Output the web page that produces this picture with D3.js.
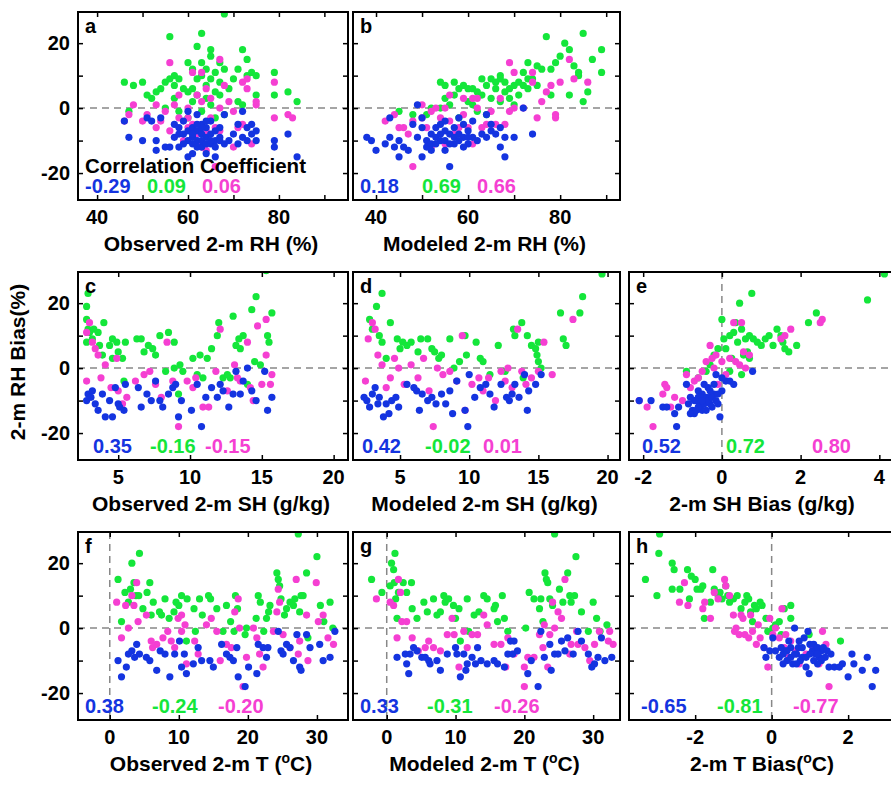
<!DOCTYPE html>
<html>
<head>
<meta charset="utf-8">
<script src="https://cdnjs.cloudflare.com/ajax/libs/d3/7.8.5/d3.min.js"></script>
<style>
  body { margin: 0; background: #fff; }
  svg { display: block; font-family: "Liberation Sans", Arial, sans-serif; font-weight: bold; }
</style>
</head>
<body>
<svg width="891" height="785"></svg>
<script>
// point lists: [x, RH bias]
const aBlue = [[46,-4],[47,-9],[50,-10],[51,-3],[52,-4],[53,-13],[53,-10],[54,-3],[55,-12],[56,-12],[57,-5],[58,-6],[58,-12],[59,-8],[59,-4],[60,-15],[60,-7],[61,-14],[61,-9],[61,-6],[62,-2],[62,-10],[62,-7],[63,-8],[63,-12],[63,-5],[64,-14],[64,-9],[64,-6],[65,-11],[65,-8],[65,-4],[66,-15],[66,-7],[66,-10],[67,-9],[67,-6],[68,-11],[68,-2],[69,-10],[70,-8],[71,-11],[71,-5],[72,-9],[72,-1],[73,-10],[73,-6],[74,-8],[74,-5],[75,-7],[75,-10],[79,-10],[79,-12],[82,-8],[84,-15],[60,-1],[57,-9],[58,-8],[60,-10],[61,-11],[62,-12],[63,-10],[64,-11],[65,-10],[66,-12],[59,-11],[61,-8],[63,-6],[64,-4],[67,-10],[62,-5]];
const aGreen = [[46,8],[47,-1],[48,7],[50,8],[51,4],[52,3],[53,5],[54,6],[55,8],[55,0],[56,22],[56,9],[57,10],[57,3],[58,9],[58,-1],[59,6],[60,14],[60,-3],[61,12],[61,6],[61,2],[62,9],[62,19],[62,4],[63,23],[63,14],[63,10],[63,-1],[64,7],[64,12],[64,3],[65,18],[65,16],[65,9],[65,1],[66,11],[66,5],[66,-3],[67,14],[67,4],[67,8],[68,29],[68,12],[68,-2],[69,6],[70,9],[71,2],[71,12],[72,18],[72,1],[73,15],[73,10],[74,11],[75,10],[75,4],[79,11],[79,4],[82,5],[84,2],[57,7],[60,5]];
const aPink = [[46,-4],[47,-2],[48,1],[50,-4],[51,-2],[53,-6],[53,1],[54,-4],[55,-1],[56,14],[56,-7],[57,1],[58,-3],[58,4],[59,-10],[60,-3],[60,0],[61,11],[61,-5],[62,4],[62,-8],[63,11],[63,-12],[63,2],[64,-13],[64,6],[64,-7],[65,3],[65,-3],[66,-6],[66,-18],[67,15],[67,-7],[67,0],[68,7],[69,2],[70,-1],[70,-12],[71,-6],[72,8],[72,-5],[73,9],[73,6],[74,-11],[75,1],[75,2],[79,8],[79,-3],[82,-2],[83,-3],[60,-6],[62,-11]];

const bBlue = [[38,-9],[39,-10],[40,-13],[42,-11],[43,-3],[43,-9],[44,-12],[45,-10],[45,-15],[46,-12],[47,-13],[48,-5],[49,1],[49,-9],[50,-3],[50,-6],[50,-15],[51,-10],[51,-12],[52,-8],[52,-11],[53,-6],[53,-9],[54,-5],[54,-10],[55,-7],[55,-4],[56,-8],[56,-18],[57,-11],[57,-6],[58,-8],[58,-3],[59,-9],[59,-5],[60,-7],[60,-11],[61,-4],[61,-9],[62,-10],[63,-8],[64,-2],[64,-9],[65,-5],[65,-7],[66,-8],[67,-12],[67,-6],[68,-15],[68,-9],[70,-9],[72,0],[74,-8],[53,-11],[54,-8],[55,-10],[56,-11],[57,-9],[58,-10],[59,-12],[60,-9],[52,-13],[55,-13]];
const bGreen = [[45,-1],[48,-2],[51,-2],[52,0],[54,8],[54,0],[55,3],[55,7],[56,1],[57,4],[57,8],[58,6],[58,-3],[59,7],[60,2],[60,6],[61,6],[61,1],[62,5],[62,-1],[63,9],[63,4],[64,7],[64,-2],[65,9],[65,3],[66,8],[66,6],[67,10],[67,9],[67,2],[68,8],[68,5],[69,6],[69,3],[70,7],[70,1],[71,4],[71,8],[72,11],[72,7],[73,14],[73,9],[73,6],[74,9],[75,13],[75,7],[76,12],[77,22],[78,12],[78,4],[79,14],[80,16],[81,20],[82,18],[82,4],[83,13],[84,11],[84,10],[85,23],[85,2],[86,5],[87,15],[89,18],[89,11]];
const bPink = [[42,-4],[44,-2],[45,-6],[46,-6],[47,-8],[48,-18],[48,-4],[50,1],[50,-3],[51,-6],[52,-12],[52,-1],[53,0],[54,-3],[55,-11],[55,0],[56,4],[56,-4],[57,-8],[58,-6],[59,-2],[59,3],[60,-6],[61,-11],[61,3],[62,0],[62,3],[63,-6],[64,-5],[65,-1],[66,-5],[67,3],[68,-5],[69,14],[69,-1],[70,11],[70,0],[72,0],[74,11],[74,8],[75,-3],[76,2],[77,5],[78,7],[79,-3],[79,-2],[80,8],[82,15],[83,9],[86,8]];

const cBlue = [[2.8,-10],[2.9,-8],[3.1,-9],[3.2,-7],[3.4,-11],[3.6,-13],[3.9,-8],[4.1,-15],[4.4,-10],[4.6,-15],[4.8,-6],[5.0,-11],[5.1,-12],[5.4,-13],[5.5,-5],[6.4,-6],[6.6,-12],[7.0,-8],[7.3,-10],[7.6,-4],[7.9,-10],[8.1,-12],[8.5,-8],[8.8,-6],[9.0,-5],[9.2,-15],[9.4,-10],[10.1,-13],[10.5,-5],[10.8,-18],[11.1,-9],[11.5,-6],[11.9,-9],[12.3,-7],[12.7,-12],[13.0,-8],[13.2,-1],[13.5,-8],[13.7,-4],[14.0,0],[14.3,-7],[14.6,-10],[15.2,-1],[15.4,-13],[15.7,-9],[12.1,-5]];
const cGreen = [[2.9,23],[2.8,19],[2.8,15],[2.9,12],[2.8,8],[3.0,11],[3.2,9],[3.3,12],[3.6,11],[3.7,7],[3.9,4],[4.0,14],[4.4,7],[4.6,9],[4.9,8],[5.0,5],[5.3,3],[5.5,8],[5.4,-4],[4.6,3],[6.3,9],[6.6,9],[6.8,5],[7.1,7],[7.4,6],[7.6,4],[7.9,10],[8.3,-1],[8.5,11],[8.9,8],[8.9,0],[9.2,-8],[9.3,1],[9.5,-1],[10.2,3],[10.5,-2],[10.7,4],[11.2,3],[11.5,6],[11.9,10],[12.0,14],[12.3,-3],[12.8,-3],[13.0,16],[13.2,7],[13.4,9],[13.5,6],[13.7,10],[14.0,-5],[14.3,18],[14.5,2],[14.6,22],[14.9,1],[15.3,30],[15.4,10],[15.5,8],[15.7,17],[12.6,-2],[10.9,-3]];
const cPink = [[2.8,-4],[2.8,11],[3.0,14],[3.2,8],[3.4,6],[3.6,4],[3.8,-3],[4.1,1],[4.5,-6],[4.9,3],[5.0,-7],[5.3,-11],[5.6,-9],[6.2,-4],[6.8,-2],[7.2,-1],[7.6,-5],[8.0,-9],[8.4,8],[8.8,-4],[9.2,-18],[9.8,-4],[10.4,-3],[10.9,-12],[11.3,-12],[11.8,-1],[12.1,12],[12.6,-7],[13.1,1],[13.3,-3],[13.5,-4],[14.0,8],[14.2,-6],[14.4,-10],[14.7,13],[15.0,-5],[15.3,4],[15.3,15],[15.6,-5],[15.7,-2],[10.2,-6]];

const dBlue = [[2.4,-9],[2.6,-10],[2.8,-12],[3.0,-8],[3.2,-6],[3.4,-11],[3.5,-9],[3.8,-15],[4.0,-11],[4.2,-14],[4.4,-10],[4.7,-9],[4.9,-12],[5.5,-5],[6.0,-6],[6.2,-7],[6.4,-13],[6.6,-8],[7.0,-10],[7.3,-9],[7.6,-11],[8.0,-8],[8.3,-11],[8.6,-7],[8.8,-14],[9.1,-4],[9.7,-13],[9.9,-18],[10.0,-2],[10.4,-9],[10.8,-6],[11.2,-5],[11.8,-12],[12.3,-5],[12.7,-9],[13.1,-8],[13.3,-5],[13.6,-9],[14.0,-2],[14.2,-13],[14.3,-7],[14.8,-5],[15.2,-2],[11.5,-8],[12.9,-10]];
const dGreen = [[2.8,15],[3.0,12],[3.3,19],[3.5,10],[3.7,23],[3.7,8],[4.0,3],[4.3,14],[4.8,9],[5.0,6],[5.2,8],[5.5,7],[5.8,8],[6.3,5],[6.5,9],[7.0,9],[7.3,6],[7.5,5],[7.8,3],[8.0,4],[8.6,9],[8.9,0],[9.3,2],[9.7,10],[9.8,4],[10.5,8],[10.8,3],[11.0,2],[11.5,-2],[12.1,7],[12.6,-1],[13.2,12],[13.3,10],[13.8,14],[13.9,-3],[14.2,10],[14.5,7],[14.8,6],[14.9,4],[15.0,8],[15.0,2],[15.2,0],[16.6,17],[16.8,9],[17.0,7],[18.0,17],[18.2,22],[19.6,29]];
const dPink = [[2.5,-4],[2.7,9],[3.0,14],[3.2,12],[3.4,4],[3.7,1],[4.0,-6],[4.3,-3],[4.6,3],[4.9,0],[5.3,-5],[5.8,1],[6.3,-3],[6.7,3],[7.1,-7],[7.4,-18],[7.7,0],[8.1,-2],[8.6,-1],[9.1,-4],[9.5,10],[9.7,-13],[10.2,-5],[10.7,-3],[11.0,-7],[11.4,-3],[11.9,-10],[12.3,-1],[12.8,0],[13.1,-6],[13.5,12],[13.8,-1],[14.1,-5],[14.5,-3],[15.0,-1],[15.4,8],[17.5,15],[16.0,-2],[12.6,-4]];

const eBlue = [[-2.1,-10],[-1.8,-10],[-1.5,-12],[-1.4,-12],[-1.2,-14],[-1.15,-18],[-1.1,-12],[-0.9,-5],[-0.8,-9],[-0.75,-13],[-0.7,-14],[-0.65,-10],[-0.6,-7],[-0.55,-11],[-0.5,-8],[-0.45,-5],[-0.4,-9],[-0.35,-6],[-0.3,-9],[-0.25,-12],[-0.2,-8],[-0.15,-2],[-0.1,-11],[-0.05,-15],[0.0,-7],[0.1,-4],[0.2,-4],[0.3,-5],[0.78,-1],[-0.5,-13],[-0.3,-11],[-0.6,-12],[-0.2,-5],[-0.85,-11],[-0.7,-10],[-0.65,-13],[-0.55,-9],[-0.45,-11],[-0.4,-13],[-0.35,-10],[-0.25,-9],[-0.15,-10],[-0.1,-8],[-0.3,-7],[-0.6,-9],[-0.8,-14],[-0.5,-10],[0.0,-3]];
const eGreen = [[-0.9,-1],[-0.6,-3],[-0.4,-1],[-0.3,1],[-0.2,4],[-0.1,6],[0.0,15],[0.05,9],[0.1,6],[0.2,10],[0.25,3],[0.3,11],[0.35,14],[0.4,8],[0.45,20],[0.5,12],[0.5,-2],[0.55,4],[0.6,9],[0.65,5],[0.7,10],[0.76,23],[0.8,9],[0.9,8],[1.0,7],[1.1,9],[1.2,10],[1.3,7],[1.4,12],[1.5,10],[1.55,8],[1.6,6],[1.7,5],[1.9,7],[2.2,14],[2.4,17],[3.7,21],[4.13,29],[0.2,-1],[0.7,3]];
const ePink = [[-2.1,-10],[-1.9,-12],[-1.75,-18],[-1.5,-8],[-1.45,-5],[-1.4,-6],[-1.3,-12],[-1.2,-9],[-1.0,-10],[-0.9,-2],[-0.8,-6],[-0.7,-4],[-0.6,-3],[-0.5,-1],[-0.4,2],[-0.3,7],[-0.25,3],[-0.15,4],[-0.1,-5],[0.0,2],[0.2,3],[0.3,14],[0.35,2],[0.45,1],[0.5,14],[0.55,5],[0.6,0],[0.7,4],[1.5,9],[1.6,10],[1.75,12],[2.5,14],[2.55,15],[0.1,-2],[-0.2,0]];

const fBlue = [[1.2,-10],[1.7,-15],[2.4,-12],[2.7,-8],[3.2,-7],[3.6,-9],[3.9,-5],[4.3,-8],[5.3,-9],[5.8,-10],[6.8,-13],[7.3,-7],[8.0,-8],[8.7,-15],[9.4,-8],[10.1,-4],[10.4,-12],[10.8,-8],[11.1,-14],[12.1,-11],[12.8,-6],[13.3,-10],[14.5,-10],[15.0,-12],[16.2,-5],[16.9,-8],[17.4,-9],[17.9,-10],[18.4,-6],[18.6,-15],[19.6,-18],[20.1,-12],[21.3,-14],[21.5,-5],[22.2,-6],[22.7,-9],[22.9,-6],[24.4,-1],[24.8,-7],[25.1,-8],[25.6,-5],[26.1,-6],[26.6,-10],[27.1,-2],[27.5,-12],[27.7,-13],[28.5,-2],[29.0,-6],[30.4,-5],[30.9,-10],[31.9,-9],[32.6,-1]];
const fGreen = [[1.2,15],[1.7,2],[2.2,11],[2.7,8],[3.0,12],[3.2,20],[3.5,14],[3.8,10],[4.3,23],[4.2,10],[4.8,6],[5.4,11],[5.8,14],[6.0,4],[6.3,8],[7.2,5],[7.5,4],[8.0,9],[8.6,3],[9.3,5],[9.6,8],[10.0,7],[10.4,10],[11.1,-4],[11.2,9],[12.2,6],[12.4,-1],[13.0,9],[13.4,4],[14.3,10],[14.6,9],[15.5,6],[16.4,-1],[16.9,7],[17.5,2],[18.0,-1],[18.2,10],[18.5,6],[19.6,-2],[19.8,0],[21.2,3],[21.5,10],[21.8,8],[22.3,-1],[22.7,3],[23.0,5],[23.2,7],[24.2,17],[24.4,15],[24.6,13],[24.8,9],[25.3,4],[25.6,6],[26.1,8],[26.6,7],[26.8,9],[27.3,29],[27.5,5],[27.7,10],[28.0,10],[28.5,17],[28.7,-3],[30.0,22],[30.5,7],[31.0,2],[31.9,8],[32.3,0]];
const fPink = [[1.0,8],[1.7,-3],[2.3,7],[2.7,0],[3.2,10],[3.5,7],[3.9,14],[4.1,2],[5.3,4],[6.0,-4],[6.2,-6],[6.8,-5],[7.7,-3],[8.4,-1],[8.9,-4],[9.4,-6],[9.9,3],[10.4,-1],[10.4,4],[10.9,1],[11.1,-11],[12.3,-4],[12.8,-8],[14.0,1],[14.7,3],[15.5,-1],[16.0,-10],[16.9,-5],[17.6,-6],[18.1,5],[18.6,9],[18.8,0],[19.3,-18],[19.8,-9],[20.8,0],[21.3,-3],[21.7,-8],[22.2,-12],[23.7,-1],[24.2,5],[24.4,12],[24.6,8],[25.1,-2],[26.1,-6],[27.0,15],[27.3,-8],[27.5,-4],[28.5,4],[28.7,-10],[29.9,14],[30.2,2],[30.9,4],[31.6,-3],[32.4,-5]];

const gBlue = [[1.5,-9],[2.7,-8],[2.9,-11],[3.2,-14],[3.4,-8],[3.9,-6],[4.4,-7],[5.1,-9],[5.6,-9],[6.1,-10],[6.3,-11],[7.3,-10],[7.8,-13],[8.8,-8],[10.0,-6],[10.2,-8],[10.7,-15],[11.2,-8],[11.5,-13],[11.7,-11],[12.4,-9],[12.9,-11],[13.2,-6],[13.7,-10],[14.6,-11],[15.6,-10],[16.1,-11],[17.1,-12],[17.6,-8],[18.0,-4],[18.3,-8],[18.5,-4],[19.0,-7],[20.5,-14],[21.0,-10],[22.0,-18],[22.4,-1],[22.9,-9],[23.7,-5],[23.9,-13],[24.4,-8],[24.9,-8],[25.4,-4],[25.9,-7],[26.3,-3],[27.1,-8],[27.8,-1],[28.3,-4],[29.3,-8],[29.8,-12],[30.2,-11],[30.7,-9],[31.2,-3],[31.7,-10],[32.7,-9]];
const gGreen = [[-2.2,15],[-0.7,11],[0.5,13],[0.7,20],[1.0,18],[1.2,23],[1.1,14],[1.3,9],[1.5,3],[1.7,11],[2.4,14],[2.9,11],[3.6,14],[3.7,6],[4.4,3],[5.4,8],[5.9,5],[6.8,9],[7.3,4],[7.8,5],[8.3,10],[8.5,8],[9.0,9],[9.7,7],[10.0,3],[10.5,6],[10.7,-4],[11.7,9],[11.9,-1],[12.7,4],[13.4,5],[14.1,10],[14.6,9],[15.6,6],[15.8,7],[16.1,2],[16.8,10],[17.1,3],[17.6,-1],[20.2,0],[20.7,11],[21.4,9],[22.2,6],[22.4,9],[22.7,2],[23.0,17],[23.2,15],[23.4,14],[23.7,9],[24.1,7],[24.4,29],[25.1,12],[25.6,8],[26.3,17],[26.6,10],[26.8,8],[27.3,10],[27.5,22],[28.3,5],[29.3,-1],[30.0,8],[30.5,3],[31.0,-1],[32.0,1]];
const gPink = [[-1.5,9],[0.5,8],[1.0,7],[1.5,-3],[1.7,15],[2.0,11],[2.2,2],[2.9,2],[3.7,-3],[4.6,-7],[5.6,-6],[6.1,-4],[6.8,-6],[7.8,-7],[8.8,-2],[9.5,3],[9.8,-2],[10.5,-12],[11.2,-1],[11.7,-6],[12.4,-2],[13.2,-2],[14.1,4],[14.6,1],[15.6,-5],[16.6,-5],[17.3,-12],[17.6,-3],[18.5,-8],[20.0,-12],[20.0,-18],[20.5,-9],[21.4,-9],[22.2,-2],[22.7,-6],[22.9,1],[23.4,-12],[23.7,-2],[24.1,8],[24.4,0],[24.9,5],[25.4,3],[25.9,15],[26.6,-8],[26.8,-5],[27.6,-1],[27.8,-5],[28.8,-6],[29.5,-10],[30.2,-5],[30.9,-1],[32.2,-4],[32.4,-1],[32.9,-5]];

const hBlue = [[-0.2,-6],[-0.15,-9],[-0.05,-7],[0.03,-3],[0.1,-7],[0.2,-9],[0.3,-8],[0.35,-7],[0.4,-10],[0.5,-6],[0.6,0],[0.65,-8],[0.7,-6],[0.72,-4],[0.8,-9],[0.9,-12],[0.95,-1],[0.98,-14],[1.0,-5],[1.07,-7],[1.1,-5],[1.15,-8],[1.2,-6],[1.25,-9],[1.3,-7],[1.4,-9],[1.5,-12],[1.55,-8],[1.64,-12],[1.77,-12],[1.85,-11],[2.0,-15],[2.1,-8],[2.15,-11],[2.37,-13],[2.5,-9],[2.63,-18],[2.72,-13],[0.45,-4],[0.85,-3],[1.2,-11],[0.55,-11],[0.25,-6],[0.4,-7],[0.5,-9],[0.6,-8],[0.75,-10],[0.8,-6],[0.9,-9],[1.0,-8],[1.1,-10],[1.2,-8],[1.3,-10],[1.35,-6],[1.45,-7],[0.65,-11],[0.3,-11]];
const hGreen = [[-3.3,15],[-3.0,10],[-2.95,23],[-2.93,29],[-2.6,20],[-2.55,18],[-2.6,12],[-2.4,12],[-2.2,18],[-2.15,9],[-2.1,16],[-2.0,15],[-1.95,12],[-1.85,12],[-1.8,13],[-1.76,3],[-1.6,8],[-1.54,18],[-1.5,12],[-1.4,10],[-1.35,11],[-1.3,9],[-1.2,13],[-1.15,10],[-1.1,8],[-1.0,9],[-0.9,10],[-0.8,6],[-0.7,8],[-0.65,10],[-0.6,9],[-0.55,5],[-0.5,2],[-0.45,7],[-0.4,6],[-0.3,8],[-0.25,7],[-0.15,3],[-0.1,-1],[0.03,0],[0.1,1],[0.2,2],[0.25,-2],[0.33,6],[0.5,7],[0.5,3],[0.98,-2],[1.8,-4]];
const hPink = [[-2.41,8],[-2.28,14],[-2.19,7],[-1.8,6],[-1.75,8],[-1.6,3],[-1.5,11],[-1.4,9],[-1.23,15],[-1.2,13],[-1.1,10],[-1.0,4],[-0.97,-1],[-0.93,0],[-0.85,-2],[-0.8,4],[-0.75,3],[-0.7,-2],[-0.6,-3],[-0.55,4],[-0.5,-1],[-0.4,-5],[-0.3,-3],[-0.2,-6],[-0.1,-12],[-0.05,3],[0.03,-2],[0.1,0],[0.2,-3],[0.27,6],[0.33,-6],[0.37,-2],[0.45,-9],[0.63,-7],[0.72,-11],[0.9,-8],[1.07,-6],[1.24,-11],[1.33,-1],[1.42,-5],[1.5,-18],[-0.35,1],[0.5,-4]];

// correlation coefficients per panel: blue, green, pink
const corrs = {
  a: ['-0.29', '0.09', '0.06'], b: ['0.18', '0.69', '0.66'],
  c: ['0.35', '-0.16', '-0.15'], d: ['0.42', '-0.02', '0.01'], e: ['0.52', '0.72', '0.80'],
  f: ['0.38', '-0.24', '-0.20'], g: ['0.33', '-0.31', '-0.26'], h: ['-0.65', '-0.81', '-0.77']
};

const yTicks = [-20, -10, 0, 10, 20];
const yLabels = [-20, 0, 20];

const colors = { blue: '#1434e0', green: '#14e63a', pink: '#f53fd2' };

const svg = d3.select('svg');
svg.append('rect').attr('width', 891).attr('height', 785).attr('fill', '#fff');

const cols = [78, 353, 629];
const colW = [270, 267, 270];
const rows = [12, 272, 532];
const rowH = 188;

const panels = [
  { id: 'a', col: 0, row: 0, x: [35.8, 95.2], ticks: [40, 50, 60, 70, 80, 90], labels: [40, 60, 80], title: 'Observed 2-m RH (%)', data: [aGreen, aPink, aBlue], cx: [7, 69, 124], header: true },
  { id: 'b', col: 1, row: 0, x: [35, 93], ticks: [40, 50, 60, 70, 80, 90], labels: [40, 60, 80], title: 'Modeled 2-m RH (%)', data: [bGreen, bPink, bBlue], cx: [7, 69, 124] },
  { id: 'c', col: 0, row: 1, x: [2.2, 21], ticks: [5, 10, 15, 20], labels: [5, 10, 15, 20], title: 'Observed 2-m SH (g/kg)', data: [cGreen, cPink, cBlue], cx: [15, 72, 127] },
  { id: 'd', col: 1, row: 1, x: [1.6, 20.9], ticks: [5, 10, 15, 20], labels: [5, 10, 15, 20], title: 'Modeled 2-m SH (g/kg)', data: [dGreen, dPink, dBlue], cx: [9, 72, 130] },
  { id: 'e', col: 2, row: 1, x: [-2.36, 4.5], ticks: [-2, 0, 2, 4], labels: [-2, 0, 2, 4], title: '2-m SH Bias (g/kg)', data: [eGreen, ePink, eBlue], cx: [13, 97, 183], vline: true },
  { id: 'f', col: 0, row: 2, x: [-4.6, 34.5], ticks: [0, 10, 20, 30], labels: [0, 10, 20, 30], title: 'Observed 2-m T (|C)', data: [fGreen, fPink, fBlue], cx: [7, 74, 140], vline: true },
  { id: 'g', col: 1, row: 2, x: [-4.9, 33.9], ticks: [0, 10, 20, 30], labels: [0, 10, 20, 30], title: 'Modeled 2-m T (|C)', data: [gGreen, gPink, gBlue], cx: [7, 74, 141], vline: true },
  { id: 'h', col: 2, row: 2, x: [-3.73, 3.33], ticks: [-2, 0, 2], labels: [-2, 0, 2], title: '2-m T Bias(|C)', data: [hGreen, hPink, hBlue], cx: [12, 88, 164], vline: true }
];
const seriesColors = [colors.green, colors.pink, colors.blue];

panels.forEach(p => {
  const left = cols[p.col], top = rows[p.row], w = colW[p.col], h = rowH;
  const x = d3.scaleLinear().domain(p.x).range([0, w]);
  const y = d3.scaleLinear().domain([-28.3, 29.6]).range([h, 0]);
  const g = svg.append('g').attr('transform', `translate(${left},${top})`);

  g.append('clipPath').attr('id', 'clip-' + p.id)
    .append('rect').attr('width', w).attr('height', h);

  // dashed zero lines
  g.append('line').attr('x1', 0).attr('x2', w).attr('y1', y(0)).attr('y2', y(0))
    .attr('stroke', '#888').attr('stroke-width', 1.5).attr('stroke-dasharray', '7,5');
  if (p.vline) {
    g.append('line').attr('x1', x(0)).attr('x2', x(0)).attr('y1', 0).attr('y2', h)
      .attr('stroke', '#888').attr('stroke-width', 1.5).attr('stroke-dasharray', '7,5');
  }

  const dots = g.append('g').attr('clip-path', `url(#clip-${p.id})`);
  p.data.forEach((series, i) => {
    dots.selectAll(null).data(series).enter().append('circle')
      .attr('cx', d => x(d[0])).attr('cy', d => y(d[1]))
      .attr('r', 3.6).attr('fill', seriesColors[i]);
  });

  // axes: inward ticks on all sides
  const axB = g.append('g').attr('transform', `translate(0,${h})`)
    .call(d3.axisBottom(x).tickValues(p.ticks).tickSize(-5).tickFormat(''));
  const axT = g.append('g').call(d3.axisTop(x).tickValues(p.ticks).tickSize(-5).tickFormat(''));
  const axL = g.append('g').call(d3.axisLeft(y).tickValues(yTicks).tickSize(-5).tickFormat(''));
  const axR = g.append('g').attr('transform', `translate(${w},0)`)
    .call(d3.axisRight(y).tickValues(yTicks).tickSize(-5).tickFormat(''));
  [axB, axT, axL, axR].forEach(a => {
    a.select('.domain').remove();
    a.selectAll('line').attr('stroke', '#000').attr('stroke-width', 1.5);
  });

  g.append('rect').attr('width', w).attr('height', h)
    .attr('fill', 'none').attr('stroke', '#000').attr('stroke-width', 2);

  // tick labels
  g.selectAll(null).data(p.labels).enter().append('text')
    .attr('x', d => x(d)).attr('y', h + 24).attr('text-anchor', 'middle')
    .attr('font-size', 20).text(d => d);
  if (p.col === 0) {
    g.selectAll(null).data(yLabels).enter().append('text')
      .attr('x', -8).attr('y', d => y(d) + 7).attr('text-anchor', 'end')
      .attr('font-size', 20).text(d => d);
  }

  // axis title, "|" marks the superscript degree
  const t = g.append('text').attr('x', w / 2 - 2).attr('y', h + 51)
    .attr('text-anchor', 'middle').attr('font-size', 21);
  const parts = p.title.split('|');
  t.append('tspan').text(parts[0]);
  if (parts.length > 1) {
    t.append('tspan').attr('dy', -8).attr('font-size', 14).text('o');
    t.append('tspan').attr('dy', 8).text(parts[1]);
  }

  // panel letter
  g.append('text').attr('x', 7).attr('y', 21).attr('font-size', 20).text(p.id);

  // correlation coefficients
  if (p.header) {
    g.append('text').attr('x', 7).attr('y', h - 27).attr('font-size', 20.5)
      .attr('fill', '#000').text('Correlation Coefficient');
  }
  const cc = corrs[p.id];
  [colors.blue, colors.green, colors.pink].forEach((c, i) => {
    g.append('text').attr('x', p.cx[i]).attr('y', h - 7).attr('font-size', 20)
      .attr('fill', c).text(cc[i]);
  });
});

svg.append('text').attr('transform', 'translate(25,362) rotate(-90)')
  .attr('text-anchor', 'middle').attr('font-size', 21).text('2-m RH Bias(%)');
</script>
</body>
</html>
